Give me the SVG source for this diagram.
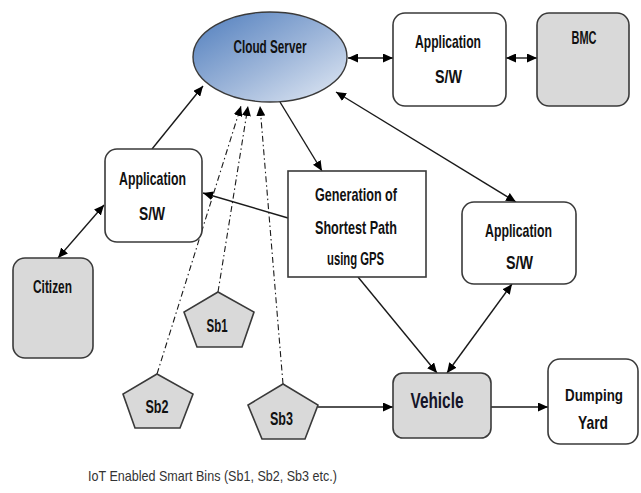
<svg xmlns="http://www.w3.org/2000/svg" width="641" height="493" viewBox="0 0 641 493">
<defs>
<linearGradient id="cloudGrad" x1="0" y1="0" x2="1" y2="1">
<stop offset="0" stop-color="#4f7dbd"/>
<stop offset="0.55" stop-color="#9fb7da"/>
<stop offset="1" stop-color="#e4ebf5"/>
</linearGradient>
<marker id="ah" markerUnits="userSpaceOnUse" markerWidth="11" markerHeight="9" refX="10" refY="4.5" orient="auto-start-reverse" viewBox="0 0 11 9">
<path d="M0,0 L10,4.5 L0,9 z" fill="#000"/>
</marker>
</defs>
<style>
.box{fill:#fff;stroke:#3a3a3a;stroke-width:1.6}
.grey{fill:#d9d9d9;stroke:#3a3a3a;stroke-width:1.6}
.lbl{font-family:"Liberation Sans",Arial,sans-serif;font-weight:bold;fill:#111;text-anchor:middle;font-size:19px}
.conn{stroke:#1a1a1a;stroke-width:1.4;fill:none}
.dd{stroke:#1a1a1a;stroke-width:1.1;fill:none;stroke-dasharray:6 3 1.5 3}
</style>
<rect width="641" height="493" fill="#fff"/>

<g id="connectors">
<line class="conn" x1="348" y1="58" x2="393" y2="58" marker-start="url(#ah)" marker-end="url(#ah)"/>
<line class="conn" x1="506" y1="58" x2="537" y2="58" marker-start="url(#ah)" marker-end="url(#ah)"/>
<line class="conn" x1="152" y1="149" x2="203" y2="86" marker-end="url(#ah)"/>
<line class="conn" x1="58" y1="258" x2="104" y2="205" marker-start="url(#ah)" marker-end="url(#ah)"/>
<line class="conn" x1="288" y1="218" x2="203" y2="193" marker-end="url(#ah)"/>
<line class="conn" x1="280" y1="102" x2="322" y2="171" marker-end="url(#ah)"/>
<line class="conn" x1="336" y1="92" x2="516" y2="202" marker-start="url(#ah)" marker-end="url(#ah)"/>
<line class="conn" x1="358" y1="277" x2="437" y2="373" marker-end="url(#ah)"/>
<line class="conn" x1="447" y1="373" x2="512" y2="284" marker-start="url(#ah)" marker-end="url(#ah)"/>
<line class="conn" x1="318" y1="407" x2="393" y2="407" marker-end="url(#ah)"/>
<line class="conn" x1="491" y1="407" x2="548" y2="407" marker-end="url(#ah)"/>
<line class="dd" x1="157" y1="374" x2="241" y2="106" marker-end="url(#ah)"/>
<line class="dd" x1="218" y1="292" x2="248" y2="106" marker-end="url(#ah)"/>
<line class="dd" x1="283" y1="384" x2="260" y2="106" marker-end="url(#ah)"/>
</g>

<g id="cloud-server">
<ellipse cx="270" cy="57" rx="77" ry="45" fill="url(#cloudGrad)" stroke="#3a3a3a" stroke-width="1.4"/>
<text class="lbl" x="270" y="53" textLength="73" lengthAdjust="spacingAndGlyphs">Cloud Server</text>
</g>

<g id="app-top">
<rect class="box" x="393" y="13" width="113" height="93" rx="12"/>
<text class="lbl" x="448" y="48" textLength="66" lengthAdjust="spacingAndGlyphs">Application</text>
<text class="lbl" x="448.5" y="83" textLength="27" lengthAdjust="spacingAndGlyphs">S/W</text>
</g>

<g id="bmc">
<rect class="grey" x="537" y="13" width="92" height="93" rx="12"/>
<text class="lbl" x="584" y="44" style="font-size:18px" textLength="25" lengthAdjust="spacingAndGlyphs">BMC</text>
</g>

<g id="app-left">
<rect class="box" x="105" y="149" width="97" height="93" rx="12"/>
<text class="lbl" x="152.5" y="185" textLength="67" lengthAdjust="spacingAndGlyphs">Application</text>
<text class="lbl" x="152" y="220" textLength="26" lengthAdjust="spacingAndGlyphs">S/W</text>
</g>

<g id="citizen">
<rect class="grey" x="13" y="258" width="80" height="100" rx="12"/>
<text class="lbl" x="52.5" y="293" textLength="39" lengthAdjust="spacingAndGlyphs">Citizen</text>
</g>

<g id="generation">
<rect class="box" x="288" y="171" width="138" height="106"/>
<text class="lbl" x="356" y="201" textLength="82" lengthAdjust="spacingAndGlyphs">Generation of</text>
<text class="lbl" x="356" y="234" textLength="82" lengthAdjust="spacingAndGlyphs">Shortest Path</text>
<text class="lbl" x="355.5" y="265" textLength="57" lengthAdjust="spacingAndGlyphs">using GPS</text>
</g>

<g id="app-right">
<rect class="box" x="462" y="202" width="114" height="82" rx="12"/>
<text class="lbl" x="518.5" y="237" textLength="67" lengthAdjust="spacingAndGlyphs">Application</text>
<text class="lbl" x="519.5" y="269" textLength="27" lengthAdjust="spacingAndGlyphs">S/W</text>
</g>

<g id="sb1">
<polygon class="grey" points="218,292 254,312 242,347 197,347 184,312"/>
<text class="lbl" x="217" y="332" textLength="21" lengthAdjust="spacingAndGlyphs">Sb1</text>
</g>

<g id="sb2">
<polygon class="grey" points="157,374 193,394 180,428 135,428 123,394"/>
<text class="lbl" x="157" y="413" textLength="23" lengthAdjust="spacingAndGlyphs">Sb2</text>
</g>

<g id="sb3">
<polygon class="grey" points="283,384 318,405 305,439 262,439 248,405"/>
<text class="lbl" x="281.5" y="425" textLength="23" lengthAdjust="spacingAndGlyphs">Sb3</text>
</g>

<g id="vehicle">
<rect class="grey" x="393" y="373" width="98" height="65" rx="10"/>
<text class="lbl" x="437" y="408" style="font-size:22px;fill:#141428" textLength="53" lengthAdjust="spacingAndGlyphs">Vehicle</text>
</g>

<g id="dumping-yard">
<rect class="box" x="548" y="359" width="90" height="85" rx="12"/>
<text class="lbl" x="594" y="401" style="font-size:17px" textLength="58" lengthAdjust="spacingAndGlyphs">Dumping</text>
<text class="lbl" x="593" y="429" textLength="30" lengthAdjust="spacingAndGlyphs">Yard</text>
</g>

<g id="caption">
<text x="88" y="481" font-family="'Liberation Sans',Arial,sans-serif" font-size="15" fill="#333" textLength="249" lengthAdjust="spacingAndGlyphs">IoT Enabled Smart Bins (Sb1, Sb2, Sb3 etc.)</text>
</g>
</svg>
